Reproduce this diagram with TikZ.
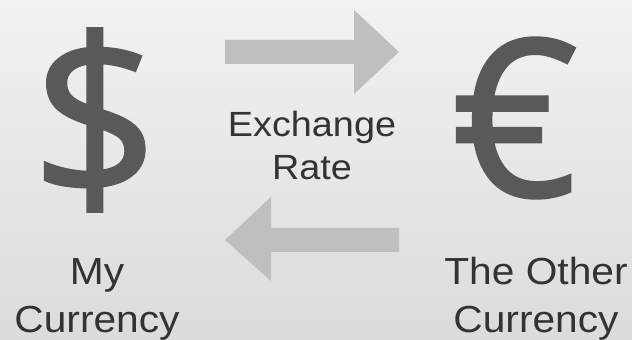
\documentclass[tikz,border=0pt]{standalone}
\usepackage{fontspec}
\setmainfont{Liberation Sans}
\newfontfamily\labfont[FakeStretch=1.08]{Liberation Sans}
\newfontfamily\symfont[FakeBold=1.2]{Open Sans}
\begin{document}
\begin{tikzpicture}[x=1pt,y=1pt,
  lab/.style={text=black!80, font=\labfont\fontsize{37.7}{48}\selectfont, align=center, inner sep=0pt},
  midlab/.style={text=black!80, font=\labfont\fontsize{35}{43}\selectfont, align=center, inner sep=0pt},
  sym/.style={text=black!65, inner sep=0pt},
  arrowfill/.style={fill=black!25, draw=none}]
\shade[top color=black!5, bottom color=black!14] (0,0) rectangle (632,340);
\useasboundingbox (0,0) rectangle (632,340);
% symbols
\node[sym, font=\symfont\fontsize{224}{224}\selectfont] (dollar) at (95,220) {\$};
\node[sym, font=\symfont\fontsize{219}{219}\selectfont] (euro) at (515,222) {€};
% labels
\node[midlab, anchor=base] (rate) at (312,160) {Exchange\\Rate};
\node[lab, anchor=base] (my) at (97,7.5) {My\\Currency};
\node[lab, anchor=base] (other) at (536,7.5) {The Other\\Currency};
% arrows
\fill[arrowfill] (225,300) -- (354,300) -- (354,330) -- (399,288) -- (354,246) -- (354,276) -- (225,276) -- cycle;
\fill[arrowfill] (399,112) -- (271,112) -- (271,143) -- (225,100) -- (271,59) -- (271,88) -- (399,88) -- cycle;
\end{tikzpicture}
\end{document}
